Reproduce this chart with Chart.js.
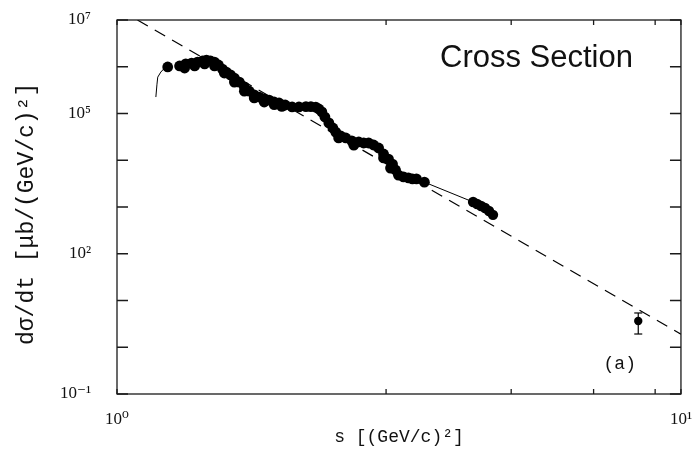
<!DOCTYPE html>
<html>
<head>
<meta charset="utf-8">
<script src="https://cdn.jsdelivr.net/npm/chart.js@4/dist/chart.umd.min.js"></script>
<style>
  body { margin: 0; background: #fff; }
</style>
</head>
<body>
<canvas id="grafico" width="699" height="450"></canvas>
<script>
// s [(GeV/c)^2] and dσ/dt [μb/(GeV/c)^2]
const sBand = [1.230, 1.291, 1.324, 1.356, 1.389, 1.418, 1.441, 1.465, 1.489, 1.513, 1.538, 1.563, 1.589, 1.615, 1.648, 1.682, 1.716, 1.751, 1.787, 1.824, 1.861, 1.899, 1.938, 1.987, 2.044, 2.102, 2.163, 2.207, 2.252, 2.280, 2.308, 2.337, 2.375, 2.414, 2.443, 2.493, 2.545, 2.608, 2.683, 2.738, 2.794, 2.851, 2.910, 2.969, 3.030, 3.080, 3.118, 3.156, 3.221, 3.287, 3.341, 3.396, 3.508];
const dsdtBand = [9.9e5, 1.04e6, 1.15e6, 1.20e6, 1.26e6, 1.33e6, 1.39e6, 1.33e6, 1.26e6, 1.09e6, 8.9e5, 7.7e5, 6.7e5, 5.7e5, 4.7e5, 3.7e5, 3.0e5, 2.5e5, 2.25e5, 2.04e5, 1.94e5, 1.76e5, 1.68e5, 1.52e5, 1.38e5, 1.38e5, 1.40e5, 1.40e5, 1.36e5, 1.25e5, 1.08e5, 8.4e4, 6.3e4, 4.9e4, 4.0e4, 3.3e4, 3.0e4, 2.6e4, 2.46e4, 2.34e4, 2.34e4, 2.12e4, 1.83e4, 1.36e4, 1.06e4, 8.3e3, 6.2e3, 4.8e3, 4.4e3, 4.2e3, 4.0e3, 4.0e3, 3.4e3];

// second, scattered set under the same band
const sBand2 = [1.318, 1.373, 1.430, 1.489, 1.550, 1.615, 1.682, 1.751, 1.824, 1.900, 1.960, 2.472, 2.630, 2.969, 3.055];
const dsdtBand2 = [9.4e5, 1.04e6, 1.15e6, 1.04e6, 7.35e5, 4.7e5, 3.0e5, 2.15e5, 1.76e5, 1.55e5, 1.42e5, 3.0e4, 2.1e4, 1.12e4, 6.8e3];

const sTail = [4.280, 4.350, 4.422, 4.494, 4.567, 4.642];
const dsdtTail = [1.28e3, 1.16e3, 1.05e3, 9.5e2, 8.2e2, 6.8e2];

// punto isolado com barra de erro
const sHigh = [8.40];
const dsdtHigh = [3.64];
const errLow = [1.92];
const errHigh = [5.41];

// curva fina (teoria), null = quebra
const sTheory = [1.172, 1.177, 1.181, 1.196, 1.210, 1.230, null, 3.508, 4.280];
const dsdtTheory = [2.25e5, 4.1e5, 6.0e5, 7.7e5, 8.95e5, 9.9e5, null, 3.4e3, 1.28e3];

// reta tracejada
const sFit = [1.087, 10];
const dsdtFit = [1e7, 1.9];

const xTicks = [1, 3, 5, 7, 9, 10];
const yTicks = [0.1, 1, 10, 100, 1e3, 1e4, 1e5, 1e6, 1e7];
const xTickLabels = { 1: '10⁰', 10: '10¹' };
const yTickLabels = { 0.1: '10⁻¹', 100: '10²', 100000: '10⁵', 10000000: '10⁷' };

const pts = (xs, ys) => xs.map((x, i) => ({ x: x, y: ys[i] }));

// moldura e ticks para dentro
const frame = {
  id: 'frame',
  afterDraw(chart) {
    const { ctx, chartArea: a, scales: { x, y } } = chart;
    ctx.save();
    ctx.strokeStyle = '#1a1a1a';
    ctx.lineWidth = 1.3;
    ctx.strokeRect(a.left, a.top, a.right - a.left, a.bottom - a.top);
    ctx.beginPath();
    x.ticks.forEach(t => {
      const px = x.getPixelForValue(t.value);
      ctx.moveTo(px, a.top); ctx.lineTo(px, a.top + 5);
      ctx.moveTo(px, a.bottom); ctx.lineTo(px, a.bottom - 5);
    });
    y.ticks.forEach(t => {
      const py = y.getPixelForValue(t.value);
      ctx.moveTo(a.left, py); ctx.lineTo(a.left + 11, py);
      ctx.moveTo(a.right, py); ctx.lineTo(a.right - 11, py);
    });
    ctx.stroke();

    ctx.fillStyle = '#111';
    ctx.textBaseline = 'alphabetic';
    ctx.textAlign = 'right';
    ctx.font = '31px "Liberation Sans", Arial, sans-serif';
    ctx.fillText('Cross Section', a.right - 48, a.top + 47);
    ctx.font = '18px "Liberation Mono", monospace';
    ctx.fillText('(a)', a.right - 45, a.bottom - 25);
    ctx.restore();
  }
};

const ctx = document.getElementById('grafico').getContext('2d');

const grafico = new Chart(ctx, {
  type: 'scatter',
  data: {
    datasets: [{
      label: 'dados',
      data: pts(sBand, dsdtBand),
      backgroundColor: '#000',
      borderColor: '#000',
      pointRadius: 5.4,
      pointBorderWidth: 0
    }, {
      label: 'dados 2',
      data: pts(sBand2, dsdtBand2),
      backgroundColor: '#000',
      borderColor: '#000',
      pointRadius: 5.4,
      pointBorderWidth: 0
    }, {
      label: 'dados alto s',
      data: pts(sTail, dsdtTail),
      backgroundColor: '#000',
      borderColor: '#000',
      pointRadius: 5.2,
      pointBorderWidth: 0
    }, {
      label: 'ponto',
      data: pts(sHigh, dsdtHigh),
      backgroundColor: '#000',
      borderColor: '#000',
      pointRadius: 4.2,
      pointBorderWidth: 0
    }, {
      label: 'erro',
      data: [{ x: sHigh[0], y: errLow[0] }, { x: sHigh[0], y: errHigh[0] }],
      showLine: true,
      borderColor: '#000',
      borderWidth: 1.2,
      pointStyle: 'line',
      pointRadius: 4,
      pointBorderWidth: 1.2,
      pointBorderColor: '#000'
    }, {
      label: 'teoria',
      data: pts(sTheory, dsdtTheory),
      showLine: true,
      spanGaps: false,
      borderColor: '#000',
      borderWidth: 1,
      pointRadius: 0
    }, {
      label: 'ajuste',
      data: pts(sFit, dsdtFit),
      showLine: true,
      borderColor: '#000',
      borderWidth: 1.2,
      borderDash: [12, 8],
      pointRadius: 0
    }]
  },
  options: {
    responsive: false,
    animation: false,
    devicePixelRatio: 1,
    layout: { padding: { top: 20, right: 15, left: 0, bottom: 0 } },
    plugins: {
      legend: { display: false },
      tooltip: { enabled: false }
    },
    scales: {
      x: {
        type: 'logarithmic',
        min: 1,
        max: 10,
        grid: { display: false },
        border: { display: false },
        afterBuildTicks: s => { s.ticks = xTicks.map(v => ({ value: v })); },
        afterFit: s => { s.height = 56; },
        ticks: {
          autoSkip: false,
          maxRotation: 0,
          padding: 7,
          color: '#111',
          font: { family: '"Liberation Serif", "DejaVu Serif", serif', size: 17 },
          callback: v => xTickLabels[v] || ''
        },
        title: {
          display: true,
          text: 's [(GeV/c)²]',
          color: '#111',
          font: { family: '"Liberation Mono", monospace', size: 18 },
          padding: { top: 0, bottom: 2 }
        }
      },
      y: {
        type: 'logarithmic',
        min: 0.1,
        max: 1e7,
        grid: { display: false },
        border: { display: false },
        afterBuildTicks: s => { s.ticks = yTicks.map(v => ({ value: v })); },
        afterFit: s => { s.width = 117; s.paddingTop = 0; s.paddingBottom = 0; },
        ticks: {
          autoSkip: false,
          padding: 18,
          color: '#111',
          font: { family: '"Liberation Serif", "DejaVu Serif", serif', size: 17 },
          callback: v => yTickLabels[v] || ''
        },
        title: {
          display: true,
          text: 'dσ/dt [μb/(GeV/c)²] ',
          color: '#111',
          font: { family: '"Liberation Mono", monospace', size: 23 },
          padding: { top: 13, bottom: 0 }
        }
      }
    }
  },
  plugins: [frame]
});
</script>
</body>
</html>
